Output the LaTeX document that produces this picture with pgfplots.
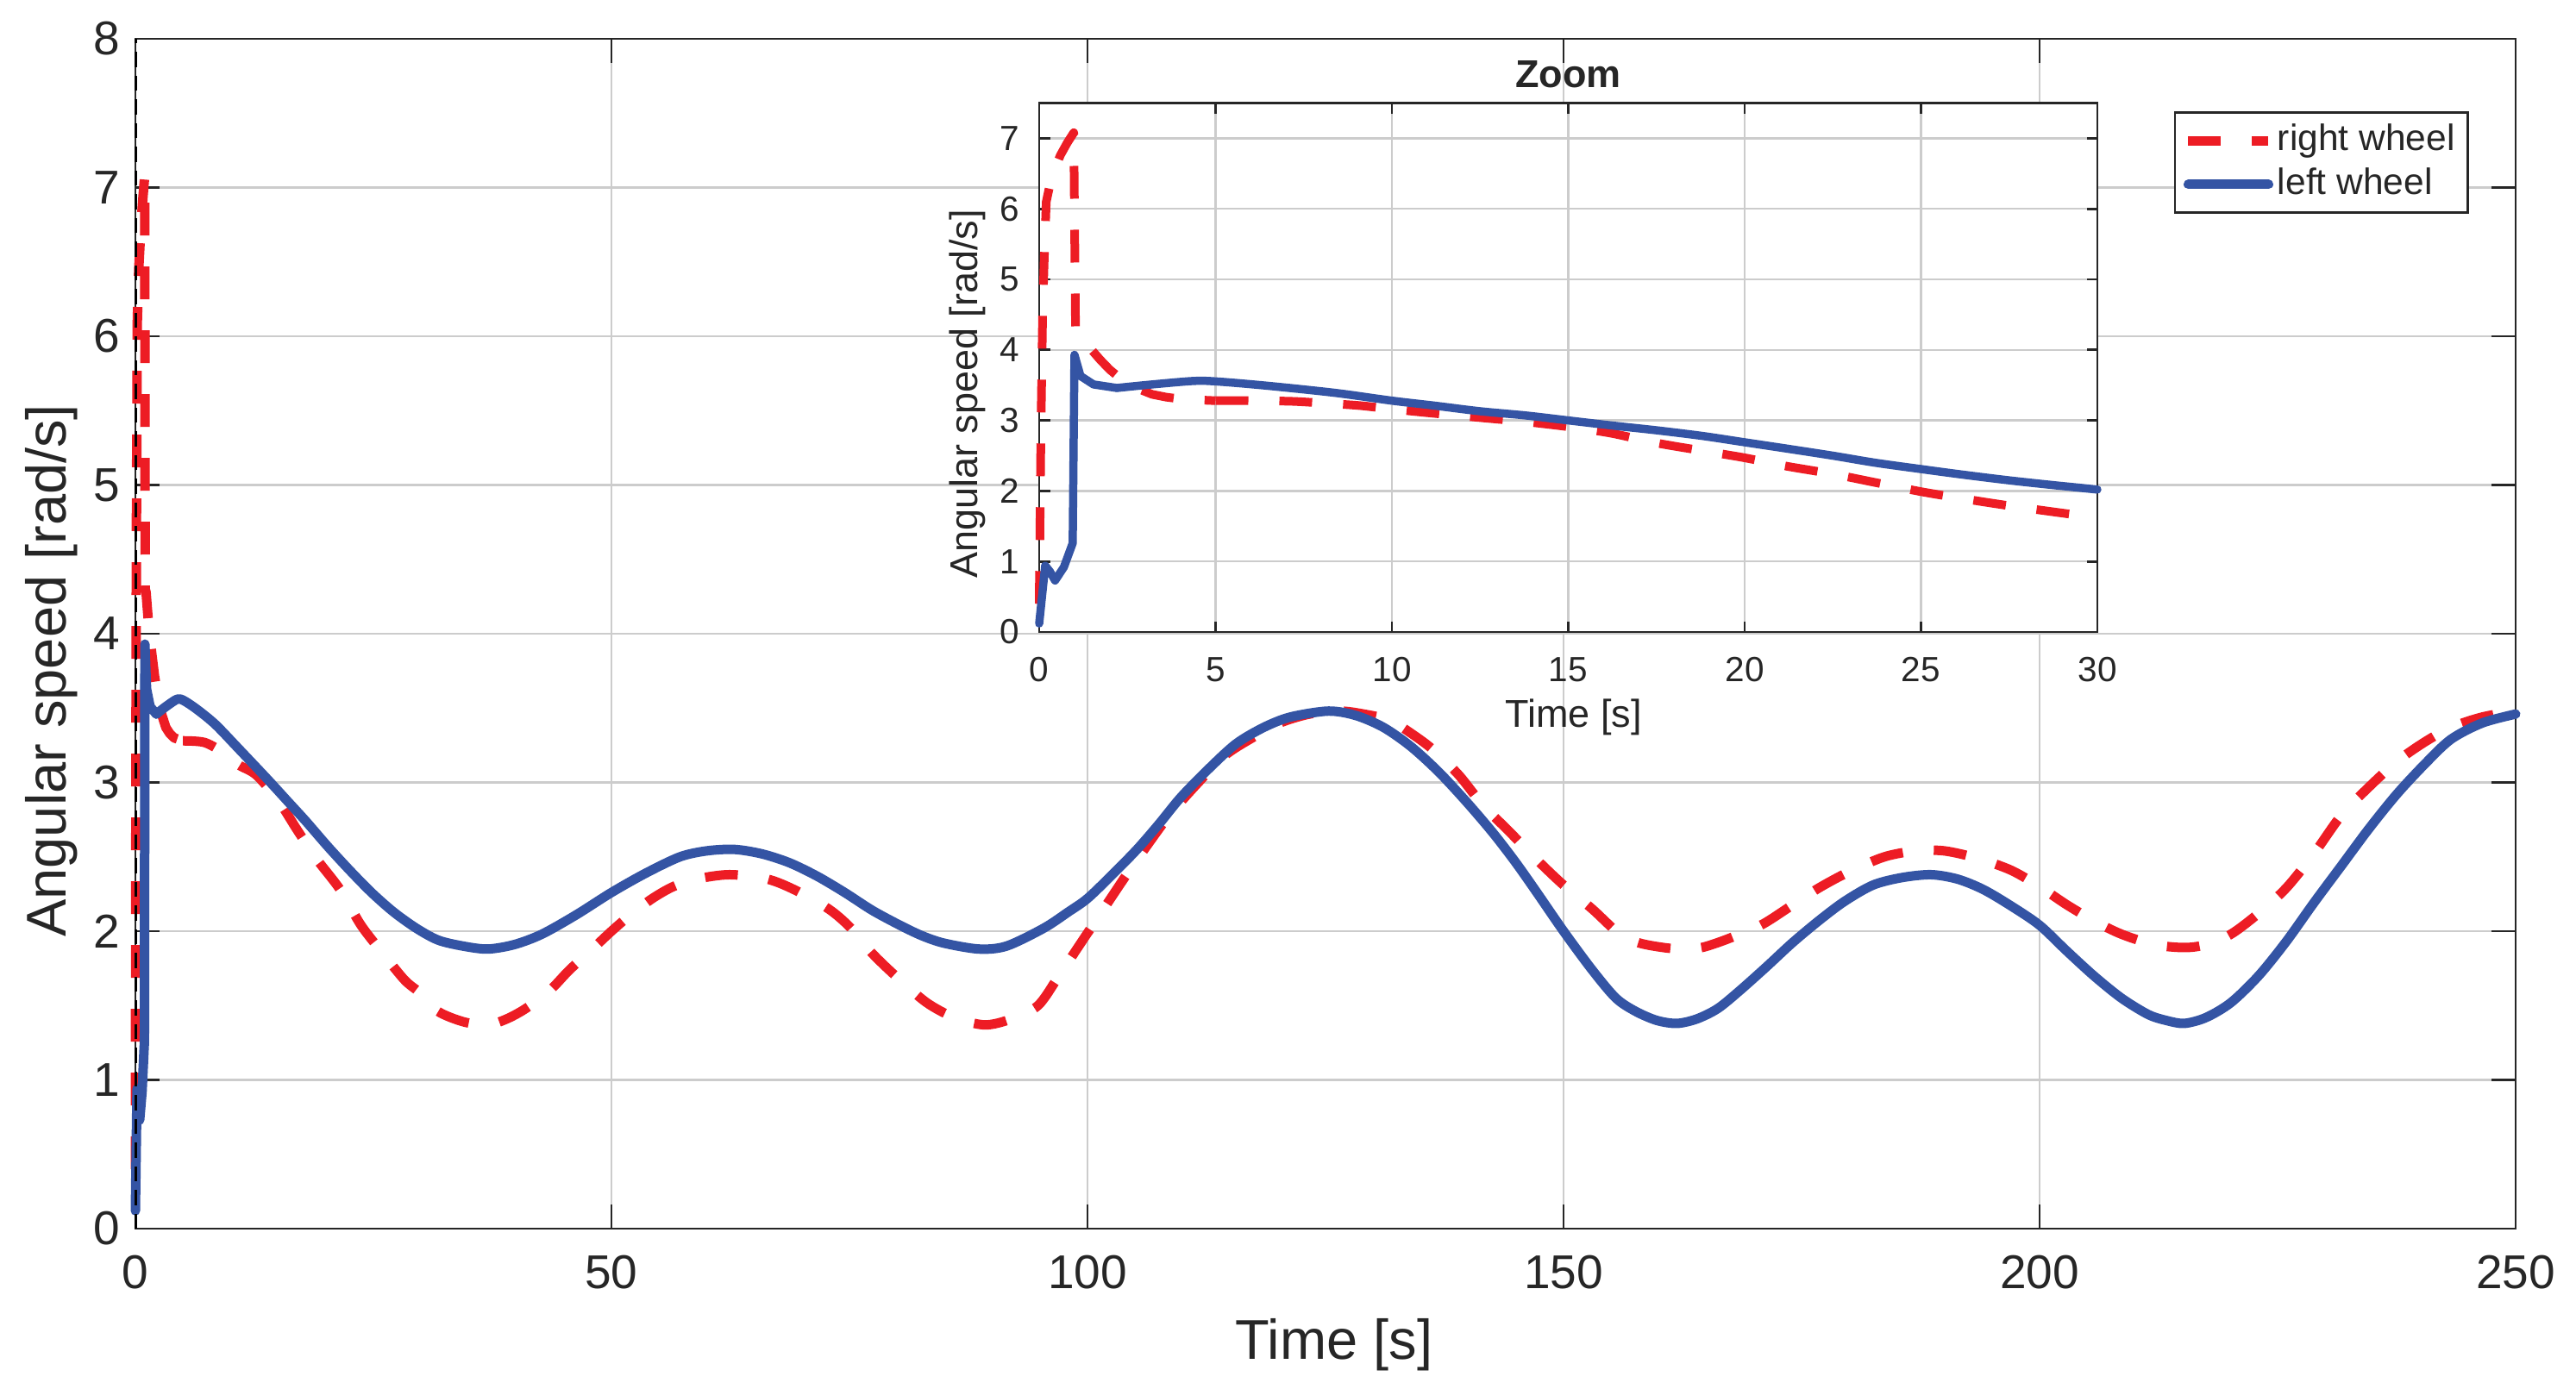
\documentclass[border=0pt]{standalone}
\usepackage{fontspec}
\setmainfont{Liberation Sans}
\usepackage{pgfplots}
\pgfplotsset{compat=1.18}
\usepackage{pgfplotstable}
\definecolor{rw}{RGB}{237,28,36}
\definecolor{lw}{RGB}{52,84,164}
\definecolor{txt}{RGB}{38,38,38}
\definecolor{gridc}{RGB}{204,204,204}

% right wheel, first seconds (sharp transient)
\pgfplotstableread{
t v
0 0.4
0.05 2.9
0.1 4.6
0.15 5.4
0.2 6.1
0.35 6.45
0.6 6.76
0.8 6.94
0.98 7.08
1.03 4.3
1.12 4.28
1.4 4.05
1.73 3.86
2.0 3.72
2.29 3.60
2.7 3.47
3.2 3.37
3.6 3.33
4.07 3.30
5 3.28
}\rightstart

\pgfplotstableread{
t v
5 3.28
7.2 3.27
9 3.21
10.8 3.12
12.7 3.05
15 2.88
17 2.68
19.1 2.48
21.5 2.28
23.7 2.04
26 1.85
28.3 1.67
30 1.58
31.8 1.46
34.5 1.39
37 1.37
39 1.41
41 1.48
43.5 1.6
45.6 1.74
48 1.88
50 2.0
52 2.11
54.3 2.22
56.5 2.3
58.9 2.35
62.4 2.38
66.4 2.35
69.5 2.27
72.8 2.15
75 2.03
77.4 1.85
80 1.69
83.1 1.52
86 1.42
89.2 1.37
92 1.41
94.8 1.50
97 1.70
99.4 1.93
101.7 2.15
104 2.37
106.3 2.58
108.6 2.78
111.5 2.99
114.4 3.18
117.3 3.30
120.2 3.40
123.3 3.46
126.5 3.48
129 3.46
131.7 3.42
134 3.33
136.3 3.22
139 3.05
141.5 2.85
144.3 2.67
147.2 2.48
150 2.31
153 2.15
155.9 1.98
158 1.92
160.5 1.89
162.5 1.88
164.5 1.89
166.5 1.93
168.5 1.98
171 2.05
173.9 2.17
176.8 2.29
180 2.40
183.7 2.50
187 2.54
190 2.54
193.5 2.49
197 2.41
200 2.30
202.8 2.18
205.7 2.07
208.6 1.98
212 1.91
215.2 1.89
217.5 1.91
220.1 1.98
223 2.12
225.9 2.29
228.8 2.52
231.7 2.78
234.6 2.97
237.5 3.14
240.4 3.27
243.2 3.37
246.5 3.44
250 3.48
}\rightmain

% left wheel, first seconds (sharp transient)
\pgfplotstableread{
t v
0 0.12
0.17 0.94
0.3 0.86
0.45 0.73
0.7 0.92
0.95 1.26
1.0 3.93
1.17 3.63
1.54 3.51
2.2 3.46
}\leftstart

\pgfplotstableread{
t v
2.2 3.46
3.2 3.51
4.4 3.56
5.1 3.55
6.5 3.49
8.4 3.39
10.8 3.23
13.9 3.02
15.9 2.88
17.9 2.74
20.2 2.57
22.5 2.41
24.8 2.26
27.1 2.13
29.5 2.02
31.8 1.94
34.4 1.90
37.0 1.88
39.8 1.91
42.7 1.98
46.3 2.11
50 2.26
53.6 2.39
57.2 2.50
60 2.54
62.9 2.55
65.8 2.52
68.7 2.46
71.6 2.37
74.5 2.26
77.4 2.14
80.3 2.04
82.6 1.97
84.9 1.92
88.6 1.88
91.5 1.90
95.4 2.02
98 2.13
100 2.22
102.6 2.38
105.2 2.55
107.5 2.72
109.8 2.90
112.7 3.09
115.6 3.26
118.5 3.37
121.3 3.44
125.3 3.48
128.2 3.45
131.1 3.37
134 3.24
136.9 3.07
139.8 2.87
142.6 2.66
145 2.46
147.2 2.26
150 2.00
153 1.74
155.5 1.55
157.6 1.46
159.8 1.40
161.9 1.38
164 1.41
166.2 1.48
168.5 1.60
171.3 1.76
174 1.92
176.8 2.07
179.5 2.20
182.5 2.31
185.5 2.36
188.6 2.38
191.4 2.35
194.1 2.28
197 2.17
200 2.04
202.8 1.87
205.7 1.70
208.6 1.55
211.4 1.44
213.3 1.40
215.2 1.38
217.5 1.42
220.1 1.52
223 1.70
225.9 1.93
228.8 2.19
231.7 2.44
234.6 2.69
237.5 2.92
240.4 3.12
243.2 3.29
246.5 3.40
250 3.46
}\leftmain

\pgfplotstableread{
t v
5 3.28
6 3.28
7.2 3.27
8.2 3.24
9.1 3.21
10 3.16
11.2 3.10
12.5 3.04
13.8 2.98
15 2.91
16.2 2.82
17.5 2.68
18.8 2.57
20 2.47
21.2 2.35
22.5 2.24
23.7 2.12
25 1.99
26.2 1.89
27.5 1.79
28.8 1.70
30 1.62
}\rightzoom

\pgfplotstableread{
t v
2.2 3.46
3.2 3.51
4.4 3.56
5.1 3.55
6.5 3.49
8.4 3.39
10 3.28
11.2 3.21
12.5 3.13
13.8 3.07
15 3.00
16.2 2.93
17.5 2.86
18.8 2.78
20 2.69
21.2 2.60
22.5 2.50
23.7 2.40
25 2.31
26.2 2.23
27.5 2.15
28.8 2.08
30 2.02
}\leftzoom

\pgfplotsset{
  mstyle/.style={
    scale only axis,
    anchor=south west,
    clip=false,
    grid=major,
    major grid style={gridc, line width=0.5pt},
    axis line style={txt, line width=0.55pt},
    tick style={txt, line width=0.55pt},
    tick align=inside,
    /pgf/number format/assume math mode=true,
    every tick label/.append style={text=txt},
    every axis label/.append style={text=txt},
  },
  rstyle/.style={rw, line width=#1, dash pattern=on 7.6pt off 7.2pt, line cap=butt, line join=round},
  lstyle/.style={lw, line width=#1, line join=round, line cap=round},
}

\begin{document}
\begin{tikzpicture}
\path[use as bounding box] (0,0) rectangle (597.4pt,322pt);
\begin{axis}[
  mstyle,
  width=552pt, height=276pt,
  at={(31.4pt,37pt)},
  xmin=0, xmax=250, ymin=0, ymax=8,
  xtick={0,50,...,250}, ytick={0,1,...,8},
  major tick length=5.6pt,
  tick label style={font=\fontsize{11}{13}\selectfont},
  xticklabel style={yshift=-2.7pt},
  xlabel={Time [s]},
  ylabel={Angular speed [rad/s]},
  label style={font=\fontsize{13}{15}\selectfont},
  xlabel style={at={(axis description cs:0.5036,0)}, anchor=base, yshift=-30.2pt},
  ylabel style={at={(axis description cs:-0.0351,0.469)}, anchor=center},
  legend style={at={(0.9804,0.9391)}, anchor=north east, draw=txt, line width=0.55pt,
    fill=white, font=\fontsize{8.5}{10}\selectfont, text=txt,
    inner xsep=2pt, inner ysep=1.7pt, row sep=0.5pt, nodes={inner sep=1pt}},
  legend cell align=left,
  legend image code/.code={\draw[#1] (0pt,0pt) -- (18.6pt,0pt);},
]
\addplot[rstyle=2.2pt] table[x=t,y=v] {\rightstart};
\addlegendentry{right wheel}
\addplot[lstyle=2.2pt] table[x=t,y=v] {\leftstart};
\addlegendentry{left wheel}
\addplot[rstyle=2.2pt, smooth, tension=0.5, forget plot] table[x=t,y=v] {\rightmain};
\addplot[lstyle=2.2pt, smooth, tension=0.5, forget plot] table[x=t,y=v] {\leftmain};
\addplot[black, line width=0.6pt, dash pattern=on 3.5pt off 2pt, forget plot] coordinates {(0,0) (0,8)};
\end{axis}

\begin{axis}[
  mstyle,
  width=245.4pt, height=122.7pt,
  at={(241pt,175.4pt)},
  axis background/.style={fill=white},
  xmin=0, xmax=30, ymin=0, ymax=7.5,
  xtick={0,5,...,30}, ytick={0,1,...,7},
  major tick length=2.5pt,
  tick label style={font=\fontsize{8.1}{10}\selectfont},
  xticklabel style={yshift=-2.3pt},
  yticklabel style={xshift=-1pt},
  xlabel={Time [s]},
  ylabel={Angular speed [rad/s]},
  label style={font=\fontsize{9}{11}\selectfont},
  xlabel style={at={(axis description cs:0.505,0)}, anchor=base, yshift=-22pt},
  ylabel style={at={(axis description cs:-0.0676,0.45)}, anchor=center},
  title={Zoom},
  title style={font=\bfseries\fontsize{9}{11}\selectfont, text=txt, at={(axis description cs:0.5,1)}, anchor=base, yshift=-2.4pt},
]
\addplot[rstyle=2pt] table[x=t,y=v] {\rightstart};
\addplot[rstyle=2pt, smooth, tension=0.5] table[x=t,y=v] {\rightzoom};
\addplot[lstyle=1.9pt] table[x=t,y=v] {\leftstart};
\addplot[lstyle=1.9pt, smooth, tension=0.5] table[x=t,y=v] {\leftzoom};
\end{axis}
\end{tikzpicture}
\end{document}
